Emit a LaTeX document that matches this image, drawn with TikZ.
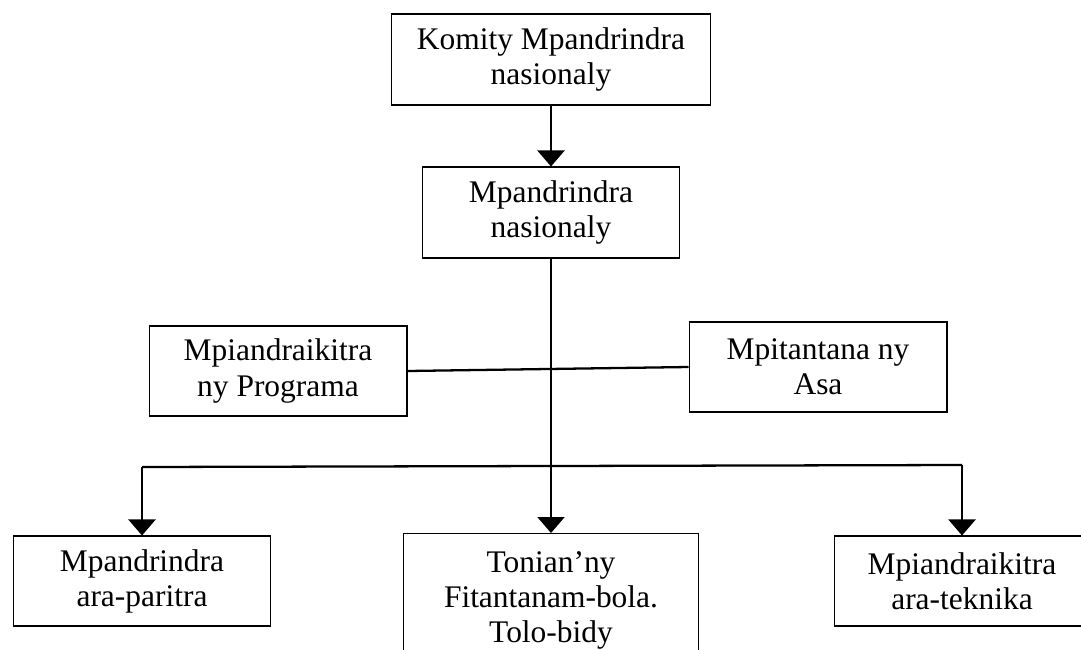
\documentclass[tikz,border=0pt]{standalone}
\usepackage{fontspec}
\setmainfont{Liberation Serif}
\usetikzlibrary{positioning,arrows.meta}
\tikzset{
  flowarrow/.style={-{Triangle[width=0.54cm, length=0.32cm]}, line width=1.3pt},
  plainline/.style={line width=1.3pt},
  orgbox/.style={draw, line width=0.6pt, fill=white, align=center, font=\fontsize{17.9}{20}\selectfont, minimum width=5.14cm, minimum height=1.8cm, inner sep=2pt}
}

\begin{document}
\begin{tikzpicture}[>=Latex, x=0.02cm, y=-0.02cm]
      \useasboundingbox (0,0) rectangle (1081,649);
      \clip (0,0) rectangle (1081,649);
      \node[orgbox, minimum width=6.38cm, minimum height=1.82cm] (komity) at (551,59.5) {Komity Mpandrindra\\nasionaly};
      \node[orgbox, minimum height=1.82cm] (mpandrindra) at (551,212.5) {Mpandrindra\\nasionaly};
      \node[orgbox, minimum width=5.16cm] (programa) at (278,371) {Mpiandraikitra\\ny Programa};
      \node[orgbox, minimum width=5.16cm] (asa) at (818,367) {Mpitantana ny\\Asa};
      \node[orgbox] (paritra) at (142,581) {Mpandrindra\\ara-paritra};
      \node[orgbox, anchor=north, minimum width=5.9cm, inner ysep=0.36cm] (fitantanana) at (551,533) {Tonian’ny\\Fitantanam-bola.\\Tolo-bidy};
      \node[orgbox, minimum width=5.12cm] (teknika) at (962,581) {Mpiandraikitra\\ara-teknika};
      \coordinate (busL) at (142,467);
      \coordinate (busR) at (962,465);
      \draw[flowarrow] (komity.south) -- (mpandrindra.north);
      \draw[flowarrow] (mpandrindra.south) -- (fitantanana.north);
      \draw[plainline] (programa.east) -- (asa.west);
      \draw[plainline] (busL) -- (busR);
      \draw[flowarrow] (busL) -- (paritra.north);
      \draw[flowarrow] (busR) -- (teknika.north);
    \end{tikzpicture}
\end{document}
